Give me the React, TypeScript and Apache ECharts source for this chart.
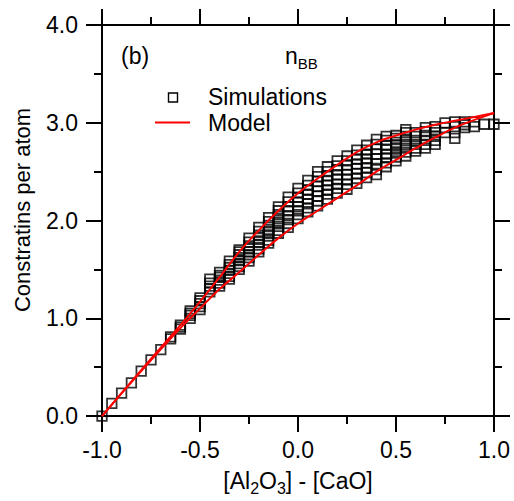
import React, { useEffect, useRef } from 'react';
import * as echarts from 'echarts';

const FONT = '"Liberation Sans", Arial, Helvetica, sans-serif';

// Simulation points: x value of each column and the y values stacked in it
const simX = [
  -1.0, -0.95, -0.9, -0.85, -0.8, -0.75, -0.7, -0.65, -0.6, -0.55,
  -0.5, -0.45, -0.4, -0.35, -0.3, -0.25, -0.2, -0.15, -0.1, -0.05,
  0.0, 0.05, 0.1, 0.15, 0.2, 0.25, 0.3, 0.35, 0.4, 0.45,
  0.5, 0.55, 0.6, 0.65, 0.7, 0.75, 0.8, 0.85, 0.9, 0.95, 1.0,
];
const simY: number[][] = [
  [0.0],
  [0.13],
  [0.235],
  [0.34],
  [0.46],
  [0.575],
  [0.68],
  [0.79, 0.81],
  [0.89, 0.91, 0.93],
  [1.0, 1.03, 1.05, 1.075],
  [1.09, 1.12, 1.15, 1.18, 1.21],
  [1.27, 1.3, 1.33, 1.36, 1.4],
  [1.33, 1.36, 1.39, 1.42, 1.44, 1.47],
  [1.4, 1.43, 1.46, 1.49, 1.52, 1.55, 1.585],
  [1.5, 1.53, 1.56, 1.59, 1.62, 1.65, 1.68, 1.7],
  [1.585, 1.62, 1.65, 1.68, 1.71, 1.74, 1.78, 1.82],
  [1.68, 1.71, 1.75, 1.78, 1.82, 1.85, 1.89, 1.93],
  [1.77, 1.8, 1.84, 1.88, 1.91, 1.95, 1.99, 2.03],
  [1.87, 1.9, 1.94, 1.98, 2.02, 2.06, 2.1, 2.14],
  [1.93, 1.97, 2.01, 2.05, 2.1, 2.14, 2.19, 2.24],
  [2.02, 2.06, 2.1, 2.14, 2.19, 2.24, 2.28, 2.33],
  [2.09, 2.13, 2.17, 2.22, 2.27, 2.31, 2.36, 2.41],
  [2.15, 2.2, 2.25, 2.3, 2.35, 2.4, 2.45, 2.5],
  [2.22, 2.27, 2.31, 2.36, 2.41, 2.46, 2.5, 2.55],
  [2.28, 2.33, 2.37, 2.42, 2.47, 2.52, 2.56, 2.61],
  [2.32, 2.37, 2.42, 2.47, 2.52, 2.57, 2.61, 2.66],
  [2.38, 2.43, 2.48, 2.53, 2.58, 2.63, 2.67, 2.72],
  [2.44, 2.49, 2.54, 2.59, 2.63, 2.68, 2.72, 2.77],
  [2.47, 2.52, 2.58, 2.63, 2.68, 2.73, 2.78, 2.83],
  [2.55, 2.59, 2.64, 2.68, 2.73, 2.77, 2.82, 2.86],
  [2.61, 2.65, 2.69, 2.73, 2.77, 2.8, 2.84, 2.87],
  [2.66, 2.7, 2.74, 2.78, 2.82, 2.86, 2.9, 2.93],
  [2.71, 2.74, 2.78, 2.82, 2.86, 2.9],
  [2.74, 2.78, 2.82, 2.87, 2.91, 2.95],
  [2.78, 2.82, 2.86, 2.9, 2.93, 2.96],
  [2.9, 2.95, 3.0],
  [2.84, 2.9, 2.96, 3.01],
  [2.95, 2.98, 3.01],
  [2.96, 3.01],
  [2.985],
  [2.985],
];

// Model curves (upper and lower edge of the model band)
const modelX = [-1.0, -0.8, -0.6, -0.5, -0.4, -0.3, -0.2, -0.1, 0.0, 0.1, 0.2, 0.3, 0.4, 0.5, 0.6, 0.7, 0.8, 0.9, 1.0];
const modelUpperY = [0.0, 0.47, 0.93, 1.17, 1.42, 1.68, 1.9, 2.1, 2.28, 2.43, 2.57, 2.7, 2.8, 2.87, 2.93, 2.98, 3.02, 3.06, 3.1];
const modelLowerY = [0.0, 0.46, 0.9, 1.1, 1.3, 1.47, 1.65, 1.82, 1.97, 2.1, 2.23, 2.36, 2.5, 2.62, 2.74, 2.85, 2.95, 3.03, 3.1];

const xRange = { min: -1.0, max: 1.0, interval: 0.5 };
const yRange = { min: 0.0, max: 4.0, interval: 1.0 };

const xTitle = '[Al{sub|2}O{sub|3}] - [CaO]';
const yTitle = 'Constratins per atom';
const panelLabel = '(b)';
const seriesNames = ['Simulations', 'Model'];

export default function App() {
  const ref = useRef<HTMLDivElement>(null);

  useEffect(() => {
    if (!ref.current) return;
    const chart = echarts.init(ref.current, null, { renderer: 'svg' });

    const axisBase = (showLabel: boolean) => ({
      axisLine: { show: true, onZero: false, lineStyle: { color: '#000', width: 2 } },
      axisTick: { show: true, inside: false, length: 16, lineStyle: { color: '#000', width: 2 } },
      minorTick: { show: true, splitNumber: 2, length: 8, lineStyle: { color: '#000', width: 2 } },
      splitLine: { show: false },
      minorSplitLine: { show: false },
      axisLabel: {
        show: showLabel,
        color: '#000',
        fontSize: 23,
        fontFamily: FONT,
        formatter: (v: number) => v.toFixed(1),
      },
    });

    const scatterData: number[][] = [];
    simX.forEach((x, i) => {
      simY[i].forEach((y) => scatterData.push([x, y]));
    });

    const option: any = {
      animation: false,
      backgroundColor: '#fff',
      grid: { left: 102, right: 20, top: 25, bottom: 84, containLabel: false },
      xAxis: [
        {
          type: 'value',
          position: 'bottom',
          ...xRange,
          ...axisBase(true),
          axisLabel: { ...axisBase(true).axisLabel, margin: 22 },
          name: xTitle,
          nameLocation: 'middle',
          nameGap: 46,
          nameTextStyle: {
            color: '#000',
            fontSize: 23,
            fontFamily: FONT,
            lineHeight: 30,
            rich: {
              sub: { fontSize: 16, lineHeight: 16, verticalAlign: 'bottom', fontFamily: FONT, color: '#000' },
            },
          },
        },
        {
          type: 'value',
          position: 'top',
          ...xRange,
          ...axisBase(false),
        },
      ],
      yAxis: [
        {
          type: 'value',
          position: 'left',
          ...yRange,
          ...axisBase(true),
          axisLabel: { ...axisBase(true).axisLabel, margin: 24 },
        },
        {
          type: 'value',
          position: 'right',
          ...yRange,
          ...axisBase(false),
        },
      ],
      series: [
        {
          name: seriesNames[0],
          type: 'scatter',
          xAxisIndex: 0,
          yAxisIndex: 0,
          symbol: 'rect',
          symbolSize: 9.5,
          itemStyle: { color: 'rgba(255,255,255,0)', borderColor: '#000', borderWidth: 1.8 },
          data: scatterData,
          z: 2,
        },
        {
          name: seriesNames[1],
          type: 'line',
          xAxisIndex: 0,
          yAxisIndex: 0,
          smooth: true,
          showSymbol: false,
          lineStyle: { color: '#ff0000', width: 2 },
          data: modelX.map((x, i) => [x, modelUpperY[i]]),
          z: 3,
        },
        {
          name: seriesNames[1] + ' ',
          type: 'line',
          xAxisIndex: 0,
          yAxisIndex: 0,
          smooth: true,
          showSymbol: false,
          lineStyle: { color: '#ff0000', width: 2 },
          data: modelX.map((x, i) => [x, modelLowerY[i]]),
          z: 3,
        },
      ],
      graphic: [
        {
          type: 'text',
          x: 22,
          y: 210,
          rotation: Math.PI / 2,
          style: { text: yTitle, fontSize: 22, fontFamily: FONT, fill: '#000', verticalAlign: 'middle', align: 'center' },
        },
        {
          type: 'text',
          x: 121,
          y: 56,
          style: { text: panelLabel, fontSize: 23, fontFamily: FONT, fill: '#000', verticalAlign: 'middle', align: 'left' },
        },
        {
          type: 'text',
          x: 285,
          y: 56,
          style: {
            text: 'n{sub|BB}',
            fontSize: 23,
            fontFamily: FONT,
            fill: '#000',
            lineHeight: 30,
            verticalAlign: 'middle',
            align: 'left',
            rich: { sub: { fontSize: 15, lineHeight: 15, verticalAlign: 'bottom', fontFamily: FONT, fill: '#000' } },
          },
        },
        {
          type: 'rect',
          shape: { x: 168.5, y: 93, width: 9, height: 9 },
          style: { fill: 'none', stroke: '#000', lineWidth: 1.4 },
        },
        {
          type: 'text',
          x: 208,
          y: 97,
          style: { text: seriesNames[0], fontSize: 23, fontFamily: FONT, fill: '#000', verticalAlign: 'middle', align: 'left' },
        },
        {
          type: 'line',
          shape: { x1: 155, y1: 122.5, x2: 190, y2: 122.5 },
          style: { stroke: '#ff0000', lineWidth: 2 },
        },
        {
          type: 'text',
          x: 208,
          y: 123,
          style: { text: seriesNames[1], fontSize: 23, fontFamily: FONT, fill: '#000', verticalAlign: 'middle', align: 'left' },
        },
      ],
    };

    chart.setOption(option);
    return () => chart.dispose();
  }, []);

  return (
    <div
      ref={ref}
      style={{ position: 'fixed', left: 0, top: 0, width: 514, height: 501, background: '#fff' }}
    />
  );
}
